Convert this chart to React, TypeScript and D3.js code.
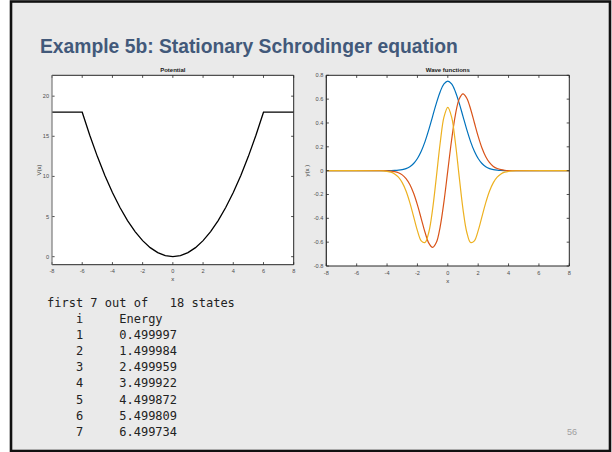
import React from "react";
import * as d3 from "d3";

// ---------- data ----------
const potX = [-8, -6, -5.5, -5, -4.5, -4, -3.5, -3, -2.5, -2, -1.5, -1, -0.5, 0, 0.5, 1, 1.5, 2, 2.5, 3, 3.5, 4, 4.5, 5, 5.5, 6, 8];
const potV = [18, 18, 15.125, 12.5, 10.125, 8, 6.125, 4.5, 3.125, 2, 1.125, 0.5, 0.125, 0, 0.125, 0.5, 1.125, 2, 3.125, 4.5, 6.125, 8, 10.125, 12.5, 15.125, 18, 18];

const waveX = [-8, -4.5, -4.25, -4, -3.75, -3.5, -3.25, -3, -2.75, -2.5, -2.25, -2, -1.75, -1.5, -1.25, -1, -0.75, -0.5, -0.25, 0,
  0.25, 0.5, 0.75, 1, 1.25, 1.5, 1.75, 2, 2.25, 2.5, 2.75, 3, 3.25, 3.5, 3.75, 4, 4.25, 4.5, 8];
const psiA = [0, 0.0000, 0.0001, 0.0003, 0.0007, 0.0016, 0.0038, 0.0083, 0.0171, 0.0330, 0.0598, 0.1017, 0.1624, 0.2438, 0.3439, 0.4556, 0.5670, 0.6628, 0.7280, 0.7511,
  0.7280, 0.6628, 0.5670, 0.4556, 0.3439, 0.2438, 0.1624, 0.1017, 0.0598, 0.0330, 0.0171, 0.0083, 0.0038, 0.0016, 0.0007, 0.0003, 0.0001, 0.0000, 0];
const psiB = [0, -0.0002, -0.0005, -0.0014, -0.0035, -0.0081, -0.0176, -0.0354, -0.0665, -0.1167, -0.1903, -0.2877, -0.4019, -0.5172, -0.6079, -0.6443, -0.6014, -0.4687, -0.2574, 0,
  0.2574, 0.4687, 0.6014, 0.6443, 0.6079, 0.5172, 0.4019, 0.2877, 0.1903, 0.1167, 0.0665, 0.0354, 0.0176, 0.0081, 0.0035, 0.0014, 0.0005, 0.0002, 0];
const psiC = [0, -0.0008, -0.0022, -0.0055, -0.0127, -0.0273, -0.0544, -0.1003, -0.1708, -0.2683, -0.3859, -0.5034, -0.5885, -0.6034, -0.5167, -0.3222, -0.0501, 0.2343, 0.4504, 0.5311,
  0.4504, 0.2343, -0.0501, -0.3222, -0.5167, -0.6034, -0.5885, -0.5034, -0.3859, -0.2683, -0.1708, -0.1003, -0.0544, -0.0273, -0.0127, -0.0055, -0.0022, -0.0008, 0];

const xTicks = [-8, -6, -4, -2, 0, 2, 4, 6, 8];
const potYTicks = [0, 5, 10, 15, 20];
const waveYTicks = [-0.8, -0.6, -0.4, -0.2, 0, 0.2, 0.4, 0.6, 0.8];

const stateIdx = ["1", "2", "3", "4", "5", "6", "7"];
const energies = ["0.499997", "1.499984", "2.499959", "3.499922", "4.499872", "5.499809", "6.499734"];

const W = 612;
const H = 452;

type PanelProps = {
  id: string;
  left: number; right: number; top: number; bottom: number;
  yDom: [number, number];
  yTicks: number[];
  fmt: (v: number) => string;
  title: string;
  ylabel: string;
  ylabelX: number;
  leftStroke: string;
  children: (x: d3.ScaleLinear<number, number>, y: d3.ScaleLinear<number, number>) => React.ReactNode;
};

function Panel(p: PanelProps) {
  const x = d3.scaleLinear().domain([-8, 8]).range([p.left, p.right]);
  const y = d3.scaleLinear().domain(p.yDom).range([p.bottom, p.top]);
  const tl = 2.6;
  const axisCol = "#262626";
  const tickTxt = "#4d4d4d";
  return (
    <g>
      <rect x={p.left} y={p.top} width={p.right - p.left} height={p.bottom - p.top} fill="#fff" />
      <clipPath id={p.id}>
        <rect x={p.left} y={p.top} width={p.right - p.left} height={p.bottom - p.top} />
      </clipPath>
      <g clipPath={`url(#${p.id})`}>{p.children(x, y)}</g>
      {xTicks.map((t) => (
        <g key={"x" + t}>
          <line x1={x(t)} x2={x(t)} y1={p.bottom} y2={p.bottom - tl} stroke={axisCol} strokeWidth={0.8} />
          <line x1={x(t)} x2={x(t)} y1={p.top} y2={p.top + tl} stroke={axisCol} strokeWidth={0.8} />
          <text x={x(t)} y={p.bottom + 8.5} fontSize={5.6} fill={tickTxt} textAnchor="middle">{t}</text>
        </g>
      ))}
      {p.yTicks.map((t) => (
        <g key={"y" + t}>
          <line x1={p.left} x2={p.left + tl} y1={y(t)} y2={y(t)} stroke={axisCol} strokeWidth={0.8} />
          <line x1={p.right} x2={p.right - tl} y1={y(t)} y2={y(t)} stroke={axisCol} strokeWidth={0.8} />
          <text x={p.left - 3} y={y(t) + 2} fontSize={5.6} fill={tickTxt} textAnchor="end">{p.fmt(t)}</text>
        </g>
      ))}
      <line x1={p.left} x2={p.right} y1={p.top} y2={p.top} stroke={axisCol} strokeWidth={1} />
      <line x1={p.left} x2={p.right} y1={p.bottom} y2={p.bottom} stroke={axisCol} strokeWidth={1} />
      <line x1={p.right} x2={p.right} y1={p.top} y2={p.bottom} stroke={axisCol} strokeWidth={1} />
      <line x1={p.left} x2={p.left} y1={p.top} y2={p.bottom} stroke={p.leftStroke} strokeWidth={1.2} />
      <text x={(p.left + p.right) / 2} y={p.top - 3.5} fontSize={6} fontWeight="bold" fill="#1a1a1a" textAnchor="middle">{p.title}</text>
      <text x={(p.left + p.right) / 2} y={p.bottom + 16.5} fontSize={6} fill="#333" textAnchor="middle">x</text>
      <text transform={`translate(${p.ylabelX},${(p.top + p.bottom) / 2}) rotate(-90)`} fontSize={6} fill="#333" textAnchor="middle">{p.ylabel}</text>
    </g>
  );
}

export default function App() {
  const potPts = potX.map((v, i) => [v, potV[i]] as [number, number]);
  const wA = waveX.map((v, i) => [v, psiA[i]] as [number, number]);
  const wB = waveX.map((v, i) => [v, psiB[i]] as [number, number]);
  const wC = waveX.map((v, i) => [v, psiC[i]] as [number, number]);

  const mono = "'DejaVu Sans Mono', 'Liberation Mono', monospace";
  const rowY = [339, 355, 371, 387, 404, 420, 436];

  return (
    <svg width={W} height={H} style={{ position: "absolute", left: 0, top: 0, display: "block" }}
      fontFamily="'Liberation Sans', Arial, Helvetica, sans-serif">
      <rect x={0} y={0} width={W} height={H} fill="#fff" />
      <rect x={11} y={1.5} width={599} height={449.5} fill="#eaeaea" stroke="#111" strokeWidth={2.6} />
      <text x={40} y={53} fontSize={19.3} fontWeight="bold" fill="#42597a">Example 5b: Stationary Schrodinger equation</text>

      <Panel id="clipPot" left={52} right={293.7} top={75.3} bottom={264.7} yDom={[-1, 22.6]} yTicks={potYTicks}
        fmt={(v) => String(v)} title="Potential" ylabel="V(x)" ylabelX={41} leftStroke="#7a7a7a">
        {(x, y) => {
          const line = d3.line<[number, number]>().x((d) => x(d[0])).y((d) => y(d[1]));
          return <path d={line(potPts) || ""} fill="none" stroke="#000" strokeWidth={1.3} />;
        }}
      </Panel>

      <Panel id="clipWave" left={326.3} right={569.3} top={75.3} bottom={266} yDom={[-0.8, 0.8]} yTicks={waveYTicks}
        fmt={(v) => (v === 0 ? "0" : v.toFixed(1))} title="Wave functions" ylabel="y(x )" ylabelX={309} leftStroke="#262626">
        {(x, y) => {
          const line = d3.line<[number, number]>().x((d) => x(d[0])).y((d) => y(d[1])).curve(d3.curveCatmullRom.alpha(0.5));
          return (
            <g fill="none" strokeWidth={1.2}>
              <path d={line(wA) || ""} stroke="#0072BD" />
              <path d={line(wB) || ""} stroke="#D95319" />
              <path d={line(wC) || ""} stroke="#EDB120" />
            </g>
          );
        }}
      </Panel>

      <g fontFamily={mono} fontSize={12} fill="#222" style={{ whiteSpace: "pre" }}>
        <text x={47} y={307} xmlSpace="preserve">first 7 out of   18 states</text>
        <text x={47} y={323} xmlSpace="preserve">    i     Energy</text>
        {stateIdx.map((s, i) => (
          <text key={s} x={47} y={rowY[i]} xmlSpace="preserve">{`    ${s}     ${energies[i]}`}</text>
        ))}
      </g>
      <text x={572} y={435} fontSize={9} fill="#a0a0a0" textAnchor="middle">56</text>
    </svg>
  );
}
